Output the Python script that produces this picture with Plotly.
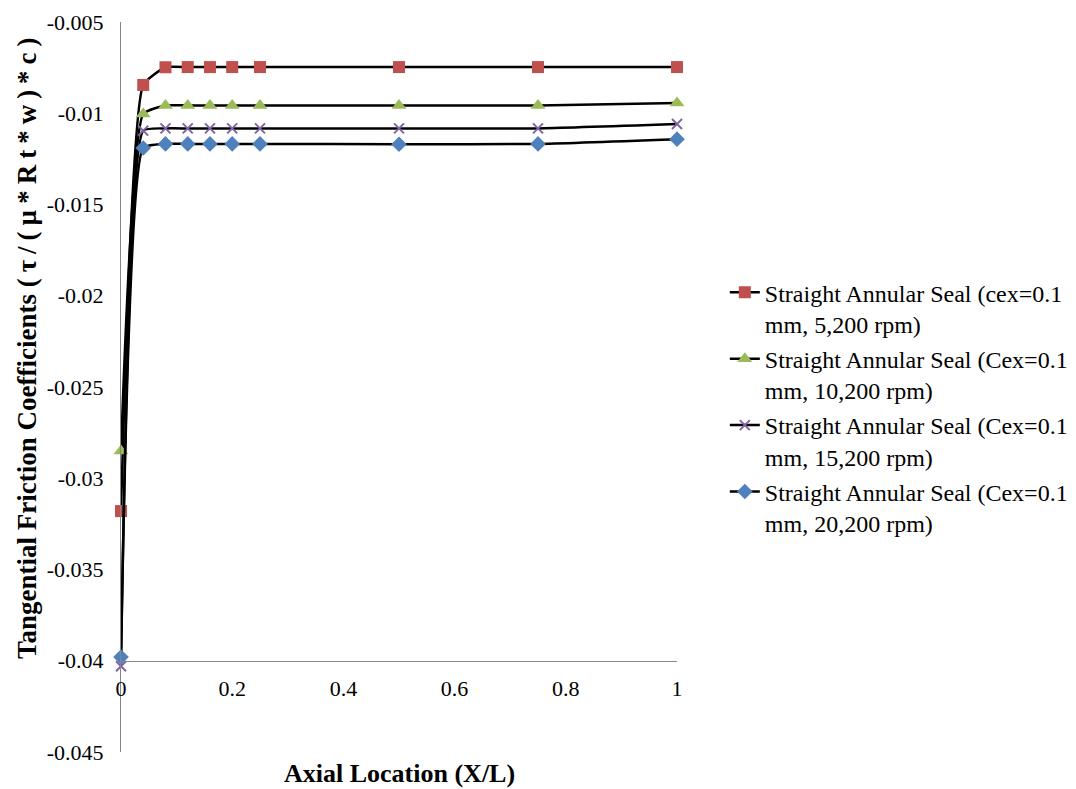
import plotly.graph_objects as go

x_loc = [0, 0.04, 0.08, 0.12, 0.16, 0.2, 0.25, 0.5, 0.75, 1.0]
s_5200 = [-0.0318, -0.00845, -0.00748, -0.00747, -0.00747, -0.00747, -0.00747, -0.00747, -0.00747, -0.00747]
s_10200 = [-0.0285, -0.01004, -0.00957, -0.00957, -0.00957, -0.00957, -0.00957, -0.00957, -0.00957, -0.00944]
s_15200 = [-0.0403, -0.01095, -0.01083, -0.01083, -0.01083, -0.01083, -0.01083, -0.01083, -0.01083, -0.01059]
s_20200 = [-0.0398, -0.0119, -0.01168, -0.01168, -0.01168, -0.01168, -0.01168, -0.01170, -0.01168, -0.01142]

names = [
    "Straight Annular Seal (cex=0.1<br>mm, 5,200 rpm)",
    "Straight Annular Seal (Cex=0.1<br>mm, 10,200 rpm)",
    "Straight Annular Seal (Cex=0.1<br>mm, 15,200 rpm)",
    "Straight Annular Seal (Cex=0.1<br>mm, 20,200 rpm)",
]
series = [s_5200, s_10200, s_15200, s_20200]

y_tickvals = [-0.005, -0.01, -0.015, -0.02, -0.025, -0.03, -0.035, -0.04, -0.045]
y_ticktext = ["-0.005", "-0.01", "-0.015", "-0.02", "-0.025", "-0.03", "-0.035", "-0.04", "-0.045"]
x_tickvals = [0, 0.2, 0.4, 0.6, 0.8, 1]
x_ticktext = ["0", "0.2", "0.4", "0.6", "0.8", "1"]

colors = ["#C0504D", "#9BBB59", "#8064A2", "#4F81BD"]
symbols = ["square", "triangle-up", "x-thin", "diamond"]
sizes = [12, 13, 10, 12]

FONT = "Liberation Serif, Times New Roman, serif"

fig = go.Figure()
for i, (nm, ys) in enumerate(zip(names, series)):
    mk = dict(symbol=symbols[i], size=sizes[i], color=colors[i],
              line=dict(color=colors[i], width=2 if symbols[i] == "x-thin" else 0))
    fig.add_trace(go.Scatter(
        x=x_loc, y=ys, name=nm, mode="lines+markers",
        line=dict(color="black", width=2.5, shape="spline", smoothing=0.45),
        marker=mk, cliponaxis=False, legendgroup=str(i),
    ))

fig.update_layout(
    width=1076, height=789,
    margin=dict(l=121, r=399, t=22, b=37, autoexpand=False),
    paper_bgcolor="white", plot_bgcolor="white",
    font=dict(family=FONT, size=22, color="black"),
    showlegend=True,
    legend=dict(x=1.086, xanchor="left", y=0.66, yanchor="top",
                font=dict(family=FONT, size=24, color="black"),
                valign="top", tracegroupgap=1, bgcolor="rgba(0,0,0,0)"),
    xaxis=dict(range=[0, 1], tickvals=x_tickvals, ticktext=x_ticktext,
               anchor="free", position=0.125, showline=True, linecolor="#868686",
               linewidth=1, showgrid=False, zeroline=False,
               ticks="outside", ticklen=8, tickcolor="rgba(0,0,0,0)",
               tickfont=dict(family=FONT, size=22)),
    yaxis=dict(range=[-0.045, -0.005], tickvals=y_tickvals, ticktext=y_ticktext,
               showline=True, linecolor="#868686", linewidth=1,
               showgrid=False, zeroline=False,
               ticks="outside", ticklen=12, tickcolor="rgba(0,0,0,0)",
               tickfont=dict(family=FONT, size=22)),
    annotations=[
        dict(text="<b>Axial Location (X/L)</b>", xref="paper", yref="paper",
             x=0.5, y=-0.0288, xanchor="center", yanchor="middle", showarrow=False,
             font=dict(family=FONT, size=26, color="black")),
        dict(text="<b>Tangential Friction Coefficients <span style=\"letter-spacing:6px\">(τ/(µ*Rt*w)*c)</span></b>",
             xref="paper", yref="paper",
             x=-0.169, y=0.5575, xanchor="center", yanchor="middle", showarrow=False,
             textangle=-90, font=dict(family=FONT, size=27, color="black")),
    ],
)

fig.write_html("out.html")
